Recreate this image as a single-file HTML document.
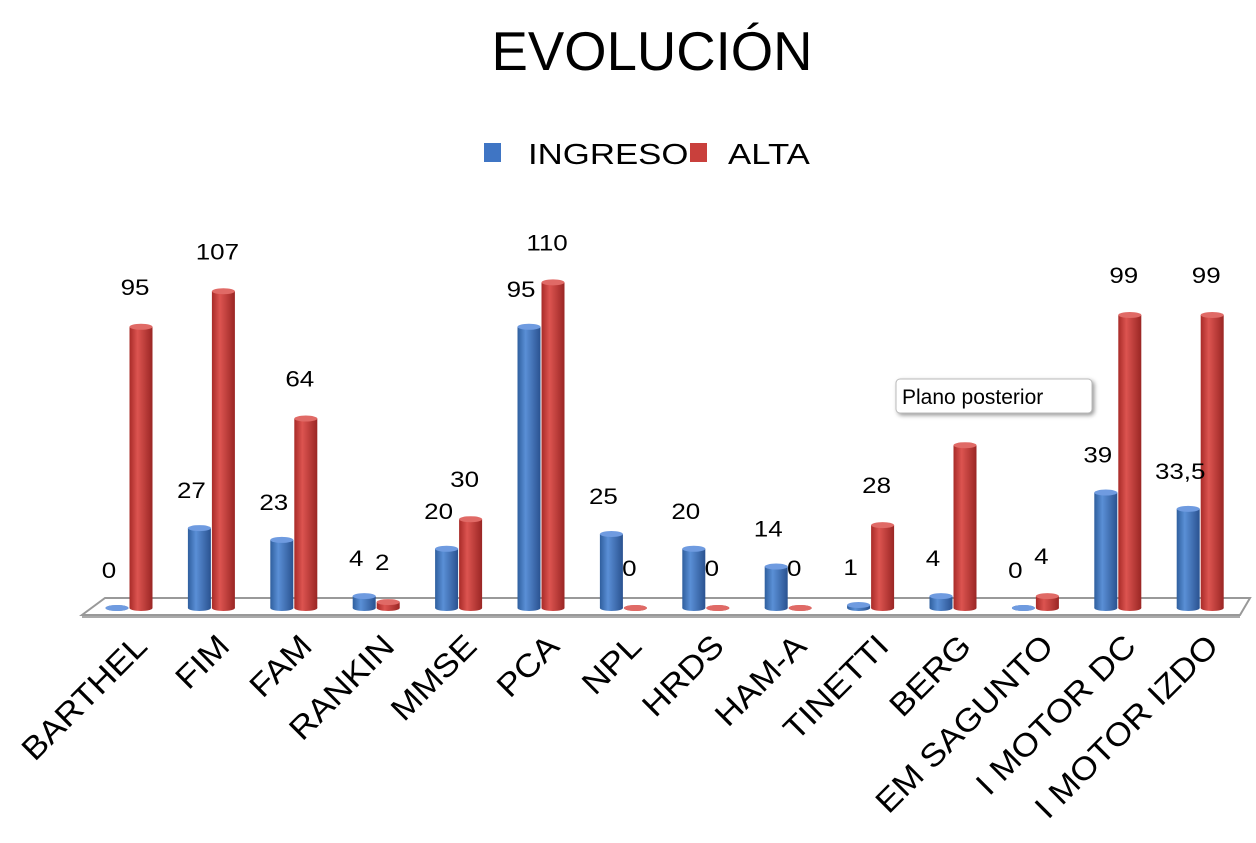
<!DOCTYPE html>
<html><head><meta charset="utf-8"><style>
body{margin:0;background:#fff;}
svg{display:block;font-family:"Liberation Sans",Arial,sans-serif;}
</style></head><body>
<svg width="1256" height="843" viewBox="0 0 1256 843">
<defs>
<linearGradient id="gb" x1="0" x2="1"><stop offset="0" stop-color="#2f5f9e"/><stop offset="0.35" stop-color="#5a8fd6"/><stop offset="1" stop-color="#2a5290"/></linearGradient>
<linearGradient id="gr" x1="0" x2="1"><stop offset="0" stop-color="#a82b28"/><stop offset="0.35" stop-color="#dc5450"/><stop offset="1" stop-color="#9a2624"/></linearGradient>
</defs>
<text x="652" y="70" font-size="54.5" text-anchor="middle">EVOLUCIÓN</text>
<g>
<rect x="484" y="143" width="17" height="19" fill="#3f75c4"/>
<text x="0" y="0" font-size="29" transform="translate(528 164) scale(1.2 1)">INGRESO</text>
<rect x="690" y="143" width="17" height="19" fill="#c9403c"/>
<text x="0" y="0" font-size="29" transform="translate(728 164) scale(1.2 1)">ALTA</text>
</g>
<polygon points="105,598 1250,598 1240,615 82,615" fill="#fff" stroke="#999" stroke-width="2"/>
<line x1="82" y1="617" x2="1240" y2="617" stroke="#aaa" stroke-width="2"/>
<g id="bars"></g>
<g>
<rect x="896" y="379" width="196" height="34" rx="4" fill="#fff" stroke="#bbb" style="filter:drop-shadow(2px 2px 2px #999)"/>
<text x="902" y="404" font-size="21">Plano posterior</text>
</g>
</svg>
<script>
const categories=["BARTHEL","FIM","FAM","RANKIN","MMSE","PCA","NPL","HRDS","HAM-A","TINETTI","BERG","EM SAGUNTO","I MOTOR DC","I MOTOR IZDO"];
const ingreso=[0,27,23,4,20,95,25,20,14,1,4,0,39,33.5];
const alta=[95,107,64,2,30,110,0,0,0,28,55,4,99,99];
const ingresoLabels=["0","27","23","4","20","95","25","20","14","1","4","0","39","33,5"];
const altaLabels=["95","107","64","2","30","110","0","0","0","28","","4","99","99"];
const NS="http://www.w3.org/2000/svg";
const g=document.getElementById('bars');
const svg=g.ownerSVGElement;
const x0=117, step=82.4, base=608, k=2.96, bw=23;
function xs(i){return x0+i*step;}
function ys(v){return base-v*k;}
function mk(t,a){const e=document.createElementNS(NS,t);for(const n in a)e.setAttribute(n,a[n]);return e;}
function bar(cx,v,fill,top,name){
  const grp=mk('g',{});
  
  
  const y=ys(v);
  grp.appendChild(mk('rect',{x:cx-bw/2,y:y,width:bw,height:base-y,fill:fill}));
  grp.appendChild(mk('ellipse',{cx:cx,cy:base,rx:bw/2,ry:3,fill:fill}));
  grp.appendChild(mk('ellipse',{cx:cx,cy:y,rx:bw/2,ry:3,fill:top}));
  g.appendChild(grp);
}
function label(x,y,s,name){
  const t=mk('text',{x:0,y:0,'font-size':22,'text-anchor':'middle',transform:'translate('+x+' '+y+') scale(1.18 1)'});
  t.textContent=s;
  
  
  svg.appendChild(t);
}
categories.forEach((c,i)=>{
  const cb=xs(i), cr=xs(i)+24;
  bar(cb,ingreso[i],'url(#gb)','#6f9be0','bar-ingreso-'+i);
  bar(cr,alta[i],'url(#gr)','#e06a66','bar-alta-'+i);
  label(cb-8,ys(ingreso[i])-30,ingresoLabels[i],'value-ingreso-'+i);
  if(altaLabels[i])label(cr-6,ys(alta[i])-32,altaLabels[i],'value-alta-'+i);
  const lx=cb+32, ly=648;
  const t=mk('text',{x:0,y:0,'font-size':32,'text-anchor':'end',transform:'translate('+lx+' '+ly+') rotate(-45) scale(1.1 1)'});
  t.textContent=c;
  
  
  svg.appendChild(t);
});
</script>
</body></html>
